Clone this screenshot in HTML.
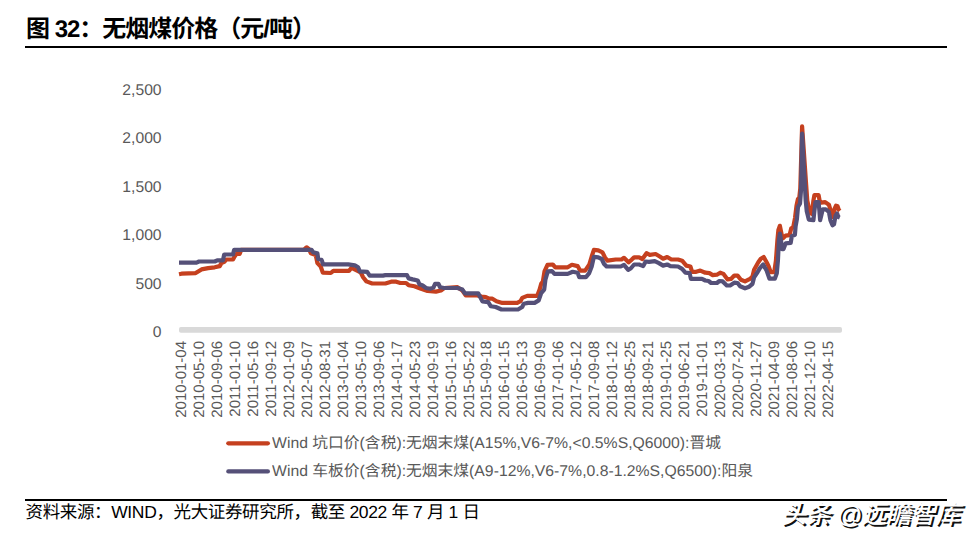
<!DOCTYPE html>
<html lang="zh"><head><meta charset="utf-8"><title>图 32：无烟煤价格（元/吨）</title>
<style>
html,body{margin:0;padding:0;background:#fff;}
body{width:978px;height:544px;position:relative;overflow:hidden;font-family:"Liberation Sans",sans-serif;text-rendering:geometricPrecision;}
svg.main{position:absolute;left:0;top:0;}
.yl{position:absolute;left:100px;width:61.6px;text-align:right;font-size:15.5px;line-height:18px;color:#595959;transform-origin:100% 50%;transform:scaleX(1.012);}
.xl{position:absolute;top:340.5px;width:84px;height:18px;line-height:18px;font-size:15px;color:#595959;text-align:right;white-space:nowrap;transform-origin:100% 0;transform:rotate(-90deg);}
.lg{position:absolute;font-size:15.5px;line-height:18px;color:#595959;white-space:nowrap;transform-origin:0 50%;transform:scaleX(1.017);font-family:"Liberation Sans","Noto Sans CJK SC",sans-serif;}
</style></head><body>
<div style="position:absolute;left:25px;top:46px;width:921.5px;height:2px;background:#000"></div>
<div style="position:absolute;left:25px;top:499px;width:921.5px;height:2px;background:#000"></div>
<svg class="main" width="978" height="544" viewBox="0 0 978 544">
<text x="26" y="37" font-size="24" font-weight="bold" fill="#000" font-family="'Liberation Sans','Noto Sans CJK SC',sans-serif" textLength="290" lengthAdjust="spacing">图 32：无烟煤价格（元/吨）</text>
<text x="25.5" y="518.3" font-size="17.5" fill="#000" font-family="'Liberation Sans','Noto Sans CJK SC',sans-serif" textLength="454.5" lengthAdjust="spacing">资料来源：WIND，光大证券研究所，截至 2022 年 7 月 1 日</text>
<rect x="179" y="327.1" width="663" height="5.7" rx="1.8" fill="#d9d9d9"/>
<polyline fill="none" stroke="#c5401f" stroke-width="4.2" stroke-linejoin="round" stroke-linecap="butt" points="179.0,274.2 181.5,273.7 195.7,273.1 201.5,269.4 208.1,268.1 214.7,267.3 219.7,266.1 221.4,263.1 224.7,261.5 226.3,259.5 233.0,259.5 234.6,256.5 236.3,254.0 239.6,254.0 241.2,249.9 304.1,249.6 306.6,247.3 309.1,249.1 310.8,253.2 315.7,254.9 317.4,263.1 320.7,266.5 322.8,272.7 330.8,273.0 333.3,270.9 349.0,270.9 351.5,267.8 355.6,269.8 360.6,272.3 363.1,277.2 366.4,281.4 372.2,283.5 385.4,283.5 391.2,281.7 396.2,281.7 400.3,283.0 406.1,283.0 408.6,285.2 414.4,286.3 421.0,288.8 427.6,291.0 435.9,291.6 440.9,290.5 444.2,288.0 457.5,287.2 462.4,290.5 465.7,295.4 477.3,295.4 481.5,296.5 485.8,297.1 489.1,298.7 492.4,298.7 496.5,301.2 502.3,302.9 517.2,302.9 520.5,301.2 522.2,297.9 527.2,295.9 537.1,295.9 539.6,289.6 541.2,283.8 542.9,281.4 544.5,271.4 547.5,264.8 552.8,264.5 555.3,267.3 567.7,267.3 571.9,264.8 577.6,266.1 580.1,270.6 585.1,270.6 589.2,264.8 591.7,256.5 593.9,249.9 598.3,250.4 602.5,252.4 605.0,257.4 607.5,260.7 615.7,259.5 621.5,259.5 624.0,257.8 628.5,262.3 631.5,259.8 634.1,257.4 639.1,257.4 642.4,259.0 646.5,253.2 649.8,254.9 655.6,254.0 659.8,256.5 663.1,258.7 667.2,257.0 671.4,259.5 678.0,259.5 682.1,260.7 686.3,265.6 690.4,266.5 692.1,271.8 696.2,271.8 700.3,270.6 705.3,272.7 709.4,273.1 712.7,275.1 716.9,274.7 720.2,272.7 723.5,273.9 727.6,279.4 731.0,278.9 734.3,275.6 737.6,275.6 740.9,279.7 745.0,281.4 750.0,278.9 752.5,276.4 754.1,269.8 758.3,262.3 760.8,258.7 763.7,257.0 766.6,262.3 768.5,266.0 770.7,272.2 774.2,272.2 775.9,260.9 777.4,240.3 778.4,230.0 779.9,225.8 781.5,234.0 783.0,238.2 785.6,235.7 789.6,235.1 791.2,228.4 793.2,227.4 795.0,218.1 796.5,205.7 797.9,199.1 799.3,197.5 800.3,188.2 802.1,126.3 805.8,180.0 807.3,200.6 810.0,213.0 811.9,214.0 813.4,200.6 814.4,195.2 818.6,195.2 819.6,200.6 821.1,202.7 825.2,202.1 828.9,204.7 830.4,209.9 831.9,216.0 833.0,217.1 834.5,208.8 836.0,205.7 837.6,206.3 838.6,209.5 839.8,210.9"/>
<polyline fill="none" stroke="#555078" stroke-width="4.2" stroke-linejoin="round" stroke-linecap="butt" points="179.0,262.7 196.5,262.6 199.0,261.5 214.7,261.5 217.2,260.3 223.0,260.3 224.2,254.5 233.0,254.5 234.1,249.9 311.6,249.9 313.2,252.4 317.4,253.2 318.2,259.0 321.5,259.8 323.2,264.4 348.2,264.3 354.8,265.3 358.1,267.3 359.8,271.4 367.2,271.8 369.7,275.6 382.9,275.6 385.4,275.1 407.0,275.1 408.6,278.4 412.7,279.4 417.7,280.5 419.4,284.2 422.7,285.5 426.0,288.0 430.1,288.8 433.4,287.6 435.1,283.8 438.4,283.8 440.1,287.2 444.2,288.0 457.5,288.0 462.4,289.6 464.9,293.3 478.2,293.3 482.4,301.4 488.2,302.1 490.7,306.2 495.7,307.0 501.5,309.5 518.0,309.5 522.2,307.0 523.8,303.7 528.0,302.9 534.6,302.9 538.7,300.4 541.2,293.0 544.2,289.6 545.4,279.7 547.8,271.4 552.0,271.1 554.5,273.9 567.7,273.9 572.7,271.8 577.6,272.7 579.3,277.2 585.9,277.2 589.2,273.1 591.7,266.5 593.9,256.9 598.3,257.4 601.7,259.0 604.1,264.0 606.6,266.5 620.7,266.5 624.0,264.8 628.2,269.8 630.7,268.5 634.1,264.5 639.1,264.5 643.2,266.1 645.7,261.5 649.0,261.8 654.8,261.2 658.9,263.1 663.1,265.6 667.2,264.5 670.5,266.1 678.0,266.5 682.1,268.9 685.4,272.7 689.6,273.1 690.9,278.9 702.0,278.9 705.3,280.5 708.6,281.0 711.1,283.0 716.9,283.0 719.4,281.0 722.7,281.4 726.8,285.5 730.1,285.5 734.3,282.7 737.6,283.0 740.1,286.3 745.0,288.3 749.2,286.7 752.5,283.8 754.1,277.2 757.5,272.3 759.9,268.1 763.2,264.5 766.6,270.6 769.5,278.7 774.8,278.7 776.8,273.3 777.9,260.9 778.9,240.3 779.9,233.6 781.0,240.3 782.0,249.1 783.5,249.1 785.6,243.4 790.7,242.9 791.8,236.2 794.9,234.8 795.6,226.3 796.9,219.1 798.0,206.8 800.0,203.7 801.0,190.3 802.1,133.5 804.6,180.0 805.7,200.6 806.7,210.9 808.8,219.6 813.4,220.2 814.4,210.9 815.5,202.1 818.6,202.1 819.4,210.9 820.1,220.2 821.4,215.0 822.7,209.4 825.8,209.4 828.9,211.9 830.4,220.2 832.5,225.3 834.0,224.3 835.5,216.0 837.1,213.5 838.3,217.0 839.8,217.6"/>
<line x1="228.3" y1="443.3" x2="267.9" y2="443.3" stroke="#c5401f" stroke-width="4.2" stroke-linecap="round"/>
<line x1="228.3" y1="471.4" x2="267.9" y2="471.4" stroke="#555078" stroke-width="4.2" stroke-linecap="round"/>
</svg>
<div class="yl" style="top:81.8px">2,500</div>
<div class="yl" style="top:130.2px">2,000</div>
<div class="yl" style="top:178.6px">1,500</div>
<div class="yl" style="top:227.1px">1,000</div>
<div class="yl" style="top:275.5px">500</div>
<div class="yl" style="top:323.9px">0</div>
<div class="xl" style="left:88.80px">2010-01-04</div>
<div class="xl" style="left:106.78px">2010-05-10</div>
<div class="xl" style="left:124.76px">2010-09-06</div>
<div class="xl" style="left:142.75px">2011-01-10</div>
<div class="xl" style="left:160.73px">2011-05-16</div>
<div class="xl" style="left:178.71px">2011-09-12</div>
<div class="xl" style="left:196.69px">2012-01-09</div>
<div class="xl" style="left:214.67px">2012-05-07</div>
<div class="xl" style="left:232.66px">2012-08-31</div>
<div class="xl" style="left:250.64px">2013-01-04</div>
<div class="xl" style="left:268.62px">2013-05-10</div>
<div class="xl" style="left:286.60px">2013-09-06</div>
<div class="xl" style="left:304.58px">2014-01-17</div>
<div class="xl" style="left:322.57px">2014-05-23</div>
<div class="xl" style="left:340.55px">2014-09-19</div>
<div class="xl" style="left:358.53px">2015-01-16</div>
<div class="xl" style="left:376.51px">2015-05-22</div>
<div class="xl" style="left:394.49px">2015-09-18</div>
<div class="xl" style="left:412.48px">2016-01-15</div>
<div class="xl" style="left:430.46px">2016-05-13</div>
<div class="xl" style="left:448.44px">2016-09-09</div>
<div class="xl" style="left:466.42px">2017-01-06</div>
<div class="xl" style="left:484.40px">2017-05-12</div>
<div class="xl" style="left:502.39px">2017-09-08</div>
<div class="xl" style="left:520.37px">2018-01-12</div>
<div class="xl" style="left:538.35px">2018-05-25</div>
<div class="xl" style="left:556.33px">2018-09-21</div>
<div class="xl" style="left:574.31px">2019-01-25</div>
<div class="xl" style="left:592.30px">2019-06-21</div>
<div class="xl" style="left:610.28px">2019-11-01</div>
<div class="xl" style="left:628.26px">2020-03-13</div>
<div class="xl" style="left:646.24px">2020-07-24</div>
<div class="xl" style="left:664.22px">2020-11-27</div>
<div class="xl" style="left:682.21px">2021-04-09</div>
<div class="xl" style="left:700.19px">2021-08-06</div>
<div class="xl" style="left:718.17px">2021-12-10</div>
<div class="xl" style="left:736.15px">2022-04-15</div>
<div class="lg" style="left:272.2px;top:434.7px"><span>Wind&nbsp;</span><span>坑口价</span><span>(</span><span>含税</span><span>):</span><span>无烟末煤</span><span>(A15%,V6-7%,&lt;0.5%S,Q6000):</span><span>晋城</span></div>
<div class="lg" style="left:272.2px;top:462.9px"><span>Wind&nbsp;</span><span>车板价</span><span>(</span><span>含税</span><span>):</span><span>无烟末煤</span><span>(A9-12%,V6-7%,0.8-1.2%S,Q6500):</span><span>阳泉</span></div>
<svg class="main" role="img" aria-label="头条 @远瞻智库" width="978" height="544" viewBox="0 0 978 544"><text transform="translate(1.9,2.0)" x="781" y="523" font-size="25" font-weight="500" font-style="italic" fill="#111" font-family="'Liberation Sans','Noto Sans CJK SC',sans-serif" textLength="179" lengthAdjust="spacing">头条 @远瞻智库</text><text x="781" y="523" font-size="25" font-weight="500" font-style="italic" fill="#fff" font-family="'Liberation Sans','Noto Sans CJK SC',sans-serif" textLength="179" lengthAdjust="spacing">头条 @远瞻智库</text></svg>
</body></html>
